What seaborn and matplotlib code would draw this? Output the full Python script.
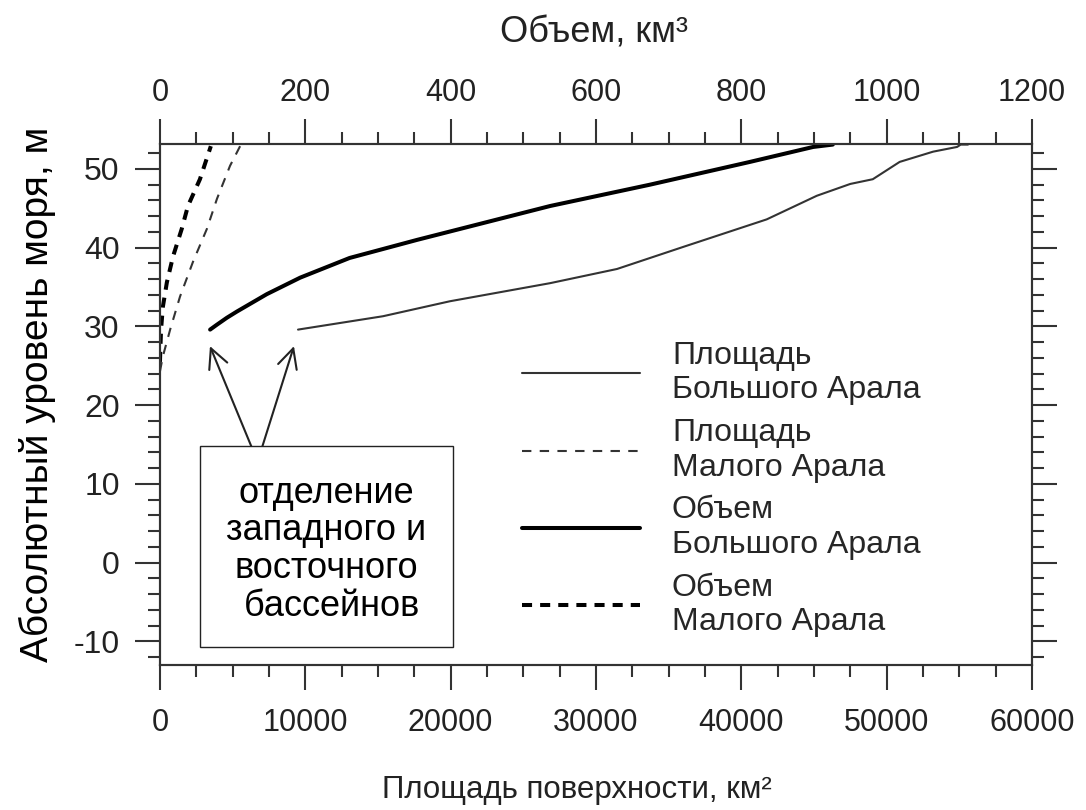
import matplotlib
matplotlib.use("Agg")
import matplotlib.pyplot as plt
from matplotlib.patches import Rectangle
from matplotlib.ticker import MultipleLocator
import seaborn as sns


# 1. DATA

# Площадь Большого Арала: level (m) vs area (km2)
big_area_level = [29.6, 31.3, 33.2, 35.5, 37.3, 40.1, 43.6, 46.6, 48.1, 48.7, 50.9, 52.2, 52.8, 53.1, 53.1]
big_area = [9500, 15350, 19950, 26850, 31450, 36000, 41750, 45200, 47500, 49050, 50900, 53200, 54850, 55100, 55600]

# Площадь Малого Арала
small_area_level = [24.3, 26.2, 29.6, 33.8, 38.2, 42.4, 46.2, 50.4, 53.1]
small_area = [0, 200, 700, 1380, 2270, 3230, 3920, 4820, 5570]

# Объем Большого Арала: level (m) vs volume (km3)
big_vol_level = [29.6, 30.2, 31.1, 31.9, 34.1, 36.2, 38.7, 41.0, 45.3, 48.0, 50.9, 52.8, 53.1]
big_vol = [69, 78, 92, 106, 147, 193, 261, 354, 537, 674, 812, 899, 926]

# Объем Малого Арала
small_vol_level = [25.5, 27.0, 29.6, 32.5, 35.6, 38.9, 42.4, 45.3, 48.7, 52.9]
small_vol = [0, 0.5, 1.5, 4, 9.5, 18, 30, 38.5, 55, 70]

labels = ["Площадь\nБольшого Арала", "Площадь\nМалого Арала",
          "Объем\nБольшого Арала", "Объем\nМалого Арала"]

# annotation placement
NOTE_TEXT = "отделение\nзападного и\nвосточного\n бассейнов"
NOTE_BOX = (0.0459, 0.0346, 0.290, 0.386)      # axes fraction: x0, y0, w, h
ARROW_TIPS = [(3440, 27.5), (9220, 27.5)]       # (area km2, level m)
ARROW_TAILS = [(6950, 11.8), (6540, 11.8)]


# 2. STYLE

sns.set_style("ticks")
plt.rcParams["font.family"] = ["Liberation Sans", "DejaVu Sans"]
plt.rcParams["axes.unicode_minus"] = False
INK = "#222222"

fig = plt.figure(figsize=(10.86, 8.10), dpi=100)
ax = fig.add_axes([0.1473, 0.179, 0.8029, 0.6428])
ax2 = ax.twiny()


# 3. CURVES

sns.lineplot(x=big_area, y=big_area_level, ax=ax, sort=False, estimator=None,
             color="#333333", linewidth=1.5, label=labels[0], legend=False)
sns.lineplot(x=small_area, y=small_area_level, ax=ax, sort=False, estimator=None,
             color="#333333", linewidth=1.5, linestyle=(0, (4.5, 4)), label=labels[1], legend=False)
sns.lineplot(x=big_vol, y=big_vol_level, ax=ax2, sort=False, estimator=None,
             color="black", linewidth=2.9, label=labels[2], legend=False)
sns.lineplot(x=small_vol, y=small_vol_level, ax=ax2, sort=False, estimator=None,
             color="black", linewidth=2.9, linestyle=(0, (2.5, 2.0)), label=labels[3], legend=False)


# 4. AXES

ax.set_xlim(0, 60000)
ax2.set_xlim(0, 1200)
ax.set_ylim(-13, 53.13)

ax.xaxis.set_major_locator(MultipleLocator(10000))
ax.xaxis.set_minor_locator(MultipleLocator(2500))
ax2.xaxis.set_major_locator(MultipleLocator(200))
ax2.xaxis.set_minor_locator(MultipleLocator(50))
ax.yaxis.set_major_locator(MultipleLocator(10))
ax.yaxis.set_minor_locator(MultipleLocator(2))

for a in (ax, ax2):
    for sp in a.spines.values():
        sp.set_visible(True)
        sp.set_linewidth(1.5)
        sp.set_color("#333333")

ax.tick_params(which="major", direction="out", length=18, width=1.5, color="#333333")
ax.tick_params(which="minor", direction="out", length=8.5, width=1.5, color="#333333")
ax.tick_params(axis="y", which="both", left=True, right=True, labelright=False)
ax.tick_params(axis="y", labelsize=23, pad=11, labelcolor=INK)
ax.tick_params(axis="x", which="both", bottom=True, top=False)
ax.tick_params(axis="x", labelsize=22, pad=13, labelcolor=INK)

ax2.tick_params(which="major", direction="out", length=18, width=1.5, color="#333333")
ax2.tick_params(which="minor", direction="out", length=8.5, width=1.5, color="#333333")
ax2.tick_params(axis="x", which="both", top=True, bottom=False, labeltop=True, labelbottom=False)
ax2.tick_params(axis="x", labelsize=22, pad=8, labelcolor=INK)

ax.set_xlabel("Площадь поверхности, км²", fontsize=22.5, color=INK)
ax.xaxis.set_label_coords(0.478, -0.211)
ax2.set_xlabel("Объем, км³", fontsize=26, color=INK)
ax2.xaxis.set_label_coords(0.498, 1.195)
ax.set_ylabel("Абсолютный уровень моря, м", fontsize=28, color="black")
ax.yaxis.set_label_coords(-0.119, 0.519)


# 5. ANNOTATION

for tip, tail in zip(ARROW_TIPS, ARROW_TAILS):
    ax.annotate("", xy=tip, xytext=tail, zorder=2,
                arrowprops=dict(arrowstyle="->,head_length=0.7,head_width=0.35",
                                mutation_scale=20, color=INK, lw=1.5,
                                shrinkA=0, shrinkB=0))

bx, by, bw, bh = NOTE_BOX
ax.add_patch(Rectangle((bx, by), bw, bh, transform=ax.transAxes,
                       facecolor="white", edgecolor=INK, linewidth=1.0, zorder=4))
ax.text(bx + bw / 2, by + bh / 2 - 0.006, NOTE_TEXT, transform=ax.transAxes,
        ha="center", va="center", multialignment="center",
        fontsize=26, linespacing=1.1, color="black", zorder=5)


# 6. LEGEND

handles = ax.get_lines()[:2] + ax2.get_lines()[:2]
ax2.legend(handles, labels, loc="upper left", bbox_to_anchor=(0.415, 0.623),
           frameon=False, fontsize=23, borderaxespad=0, borderpad=0,
           handlelength=3.7, handletextpad=1.0, labelspacing=0.40)

fig.savefig("out.png", dpi=100)
